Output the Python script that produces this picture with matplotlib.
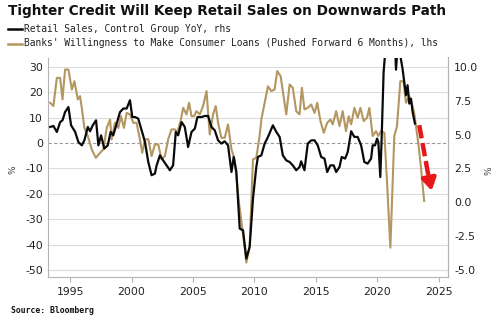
import matplotlib
matplotlib.use("Agg")
import matplotlib.pyplot as plt
from matplotlib.lines import Line2D

# ---------------- text ----------------
title = "Tighter Credit Will Keep Retail Sales on Downwards Path"
retail_label = "Retail Sales, Control Group YoY, rhs"
loans_label = "Banks' Willingness to Make Consumer Loans (Pushed Forward 6 Months), lhs"
source_text = "Source: Bloomberg"

# ---------------- data ----------------
# Retail Sales, Control Group YoY (right axis, %)
retail_dates = [
    1993.38, 1993.64, 1993.92, 1994.19, 1994.38, 1994.59, 1994.86, 1995.08, 1995.41, 1995.67,
    1995.95, 1996.16, 1996.44, 1996.62, 1996.84, 1997.11, 1997.30, 1997.52, 1997.78, 1998.06,
    1998.30, 1998.51, 1998.79, 1999.06, 1999.33, 1999.60, 1999.87, 2000.06, 2000.28, 2000.54,
    2000.82, 2001.09, 2001.36, 2001.63, 2001.90, 2002.04, 2002.31, 2002.57, 2002.85, 2003.12,
    2003.38, 2003.60, 2003.79, 2004.07, 2004.33, 2004.60, 2004.88, 2005.15, 2005.36, 2005.69,
    2005.96, 2006.23, 2006.50, 2006.77, 2007.04, 2007.31, 2007.58, 2007.85, 2008.13, 2008.31,
    2008.53, 2008.80, 2009.07, 2009.34, 2009.61, 2009.88, 2010.15, 2010.28, 2010.56, 2010.83,
    2011.10, 2011.50, 2011.78, 2012.05, 2012.31, 2012.59, 2012.86, 2013.12, 2013.40, 2013.67,
    2013.80, 2014.07, 2014.34, 2014.62, 2014.89, 2015.15, 2015.43, 2015.70, 2015.92, 2016.18,
    2016.45, 2016.65, 2016.92, 2017.10, 2017.38, 2017.59, 2017.87, 2018.13, 2018.40, 2018.68,
    2018.94, 2019.21, 2019.49, 2019.62, 2019.81, 2019.98, 2020.08, 2020.24, 2020.35, 2020.51,
    2020.65, 2020.80, 2021.00, 2021.20, 2021.35, 2021.52, 2021.65, 2021.80, 2022.05, 2022.19,
    2022.33, 2022.46, 2022.60, 2022.74, 2022.87, 2023.06,
]
retail_values = [
    5.57, 5.64, 5.20, 5.93, 6.06, 6.67, 7.04, 5.69, 5.20, 4.46,
    4.21, 4.58, 5.57, 5.25, 5.69, 6.06, 4.21, 4.95, 3.97, 4.21,
    5.20, 4.95, 5.82, 6.67, 6.93, 6.93, 7.54, 6.30, 6.30, 6.19,
    5.32, 4.46, 2.98, 2.00, 2.12, 2.73, 3.47, 3.10, 2.73, 2.37,
    2.73, 5.20, 4.95, 5.93, 5.57, 4.09, 5.20, 5.45, 6.30, 6.30,
    6.38, 6.38, 5.57, 5.32, 4.58, 4.34, 4.51, 4.21, 2.24, 3.35,
    2.24, -1.94, -2.07, -4.16, -3.30, 0.27, 2.60, 3.35, 3.47, 4.34,
    4.83, 5.69, 5.20, 4.83, 3.47, 3.10, 2.98, 2.73, 2.37, 2.61,
    3.03, 2.37, 4.34, 4.58, 4.58, 4.21, 3.35, 3.23, 2.24, 2.73,
    2.73, 2.24, 2.61, 3.35, 3.23, 3.72, 5.25, 4.83, 4.83, 4.21,
    2.98, 2.86, 3.23, 4.21, 4.21, 4.71, 4.46, 1.87, 4.71, 9.63,
    11.20, 12.50, 14.00, 18.00, 13.50, 9.80, 11.50, 11.20, 9.88, 8.89,
    7.91, 8.65, 7.29, 7.66, 6.67, 5.82,
]

# Banks' Willingness to Make Consumer Loans, pushed forward 6 months (left axis, %)
loans_dates = [
    1993.38, 1993.64, 1993.92, 1994.19, 1994.38, 1994.59, 1994.86, 1995.14, 1995.35, 1995.63,
    1995.81, 1995.95, 1996.16, 1996.44, 1996.76, 1997.09, 1997.44, 1997.70, 1997.98, 1998.25,
    1998.38, 1998.65, 1998.92, 1999.14, 1999.38, 1999.60, 1999.87, 2000.14, 2000.41, 2000.68,
    2000.87, 2001.09, 2001.36, 2001.63, 2001.90, 2002.17, 2002.44, 2002.71, 2002.98, 2003.25,
    2003.52, 2003.71, 2003.99, 2004.20, 2004.47, 2004.68, 2004.88, 2005.09, 2005.28, 2005.55,
    2005.82, 2006.10, 2006.36, 2006.63, 2006.85, 2007.04, 2007.31, 2007.58, 2007.85, 2008.13,
    2008.39, 2008.74, 2009.07, 2009.34, 2009.61, 2009.88, 2010.15, 2010.42, 2010.56, 2010.83,
    2011.10, 2011.37, 2011.64, 2011.85, 2012.13, 2012.39, 2012.59, 2012.86, 2013.12, 2013.40,
    2013.67, 2013.86, 2014.07, 2014.34, 2014.62, 2014.89, 2015.11, 2015.37, 2015.64, 2015.92,
    2016.18, 2016.37, 2016.65, 2016.92, 2017.18, 2017.45, 2017.67, 2017.87, 2018.13, 2018.40,
    2018.62, 2018.89, 2019.16, 2019.35, 2019.62, 2019.89, 2020.08, 2020.30, 2020.57, 2020.79,
    2021.06, 2021.38, 2021.60, 2021.87, 2022.13, 2022.33, 2022.60, 2022.79, 2023.00, 2023.33,
    2023.54, 2023.81,
]
loans_values = [
    15.9, 14.6, 25.7, 25.7, 17.2, 29.0, 29.0, 21.1, 24.4, 17.2,
    18.5, 13.9, 6.0, 2.8, -2.5, -5.8, -3.8, -2.5, 6.0, 9.3,
    1.5, 8.0, 6.0, 10.6, 6.0, 11.9, 11.3, 8.0, 8.0, 1.5,
    -3.8, 1.5, 1.5, -5.1, -0.5, -0.5, -6.4, -5.1, 1.5, 5.4,
    5.4, 4.1, 8.7, 13.9, 11.3, 15.9, 10.6, 10.6, 12.6, 11.3,
    14.6, 20.5, 3.4, 11.3, 14.6, 8.0, 2.1, 2.1, 7.4, -2.5,
    -6.4, -23.5, -35.9, -47.1, -40.6, -6.4, -5.8, 2.8, 9.3, 15.9,
    22.4, 20.5, 21.1, 28.4, 26.4, 17.8, 11.3, 23.1, 21.8, 12.6,
    11.3, 21.8, 13.3, 13.9, 15.2, 11.9, 15.9, 8.7, 4.1, 8.0,
    9.3, 7.4, 12.6, 6.7, 12.6, 4.7, 10.6, 7.4, 13.9, 10.0,
    13.9, 8.7, 10.0, 13.9, 2.8, 4.7, 2.8, 4.7, 4.1, -15.6,
    -41.2, 2.8, 6.7, 24.4, 24.4, 15.9, 18.5, 15.9, 11.9, 0.1,
    -9.1, -22.8,
]

left_ticks = [30, 20, 10, 0, -10, -20, -30, -40, -50]
right_ticks = [10.0, 7.5, 5.0, 2.5, 0.0, -2.5, -5.0]
x_ticks = [1995, 2000, 2005, 2010, 2015, 2020, 2025]

# red arrow annotation (right-axis units)
arrow_start = (2023.41, 5.7)
arrow_mid = (2024.15, 2.0)
arrow_end = (2024.42, 0.85)

# ---------------- style ----------------
BLACK = "#0a0a0a"
TAN = "#b39660"
RED = "#e8151b"
GRID = "#dcdcdc"
SPINE = "#b4b4b4"
TICKFONT = "DejaVu Sans"
MONO = "DejaVu Sans Mono"

fig = plt.figure(figsize=(5.0, 3.24), dpi=100)
W, H = 500.0, 324.0
ax = fig.add_axes([48 / W, 1 - 277 / H, 400 / W, 219.5 / H])
ax2 = ax.twinx()

ax.set_xlim(1993.2, 2025.75)
ax.set_ylim(-52.76, 33.74)
ax2.set_ylim(-5.517, 10.70)

# gridlines (left axis)
for v in left_ticks:
    if v == 0:
        ax.axhline(v, color="#9a9a9a", lw=0.8, ls=(0, (3, 2)), zorder=1)
    else:
        ax.axhline(v, color=GRID, lw=0.8, zorder=1)

ax.plot(loans_dates, loans_values, color=TAN, lw=1.5, zorder=3)
ax2.plot(retail_dates, retail_values, color=BLACK, lw=1.6, zorder=3)

# dashed red arrow
ax2.plot([arrow_start[0], arrow_mid[0]], [arrow_start[1], arrow_mid[1]],
         color=RED, lw=3.2, dashes=(3.0, 1.1), solid_capstyle="butt",
         dash_capstyle="butt", zorder=5)
ax2.annotate("", xy=arrow_end, xytext=arrow_mid,
             arrowprops=dict(arrowstyle="-|>,head_width=0.42,head_length=0.7",
                             color=RED, lw=3.2, shrinkA=0, shrinkB=0),
             zorder=5)

# ticks
ax.set_yticks(left_ticks)
ax.set_yticklabels([f"{v:d}" for v in left_ticks])
ax2.set_yticks(right_ticks)
ax2.set_yticklabels([f"{v:.1f}" for v in right_ticks])
ax.set_xticks(x_ticks)
ax.set_xticklabels([str(v) for v in x_ticks])

ax.tick_params(axis="y", length=0, pad=3.5, labelsize=7.8, labelcolor="#222222")
ax2.tick_params(axis="y", length=0, pad=4.5, labelsize=7.8, labelcolor="#222222")
ax.tick_params(axis="x", length=3.5, width=0.8, color=SPINE, pad=4,
               labelsize=7.8, labelcolor="#222222")
for lab in ax.get_xticklabels() + ax.get_yticklabels() + ax2.get_yticklabels():
    lab.set_family(TICKFONT)

for a in (ax, ax2):
    a.spines["top"].set_visible(False)
    for s in ("left", "right", "bottom"):
        a.spines[s].set_color(SPINE)
        a.spines[s].set_linewidth(0.8)
ax2.spines["left"].set_visible(False)
ax2.spines["bottom"].set_visible(False)
ax.set_facecolor("white")

# % labels
fig.text(13 / W, 1 - 170 / H, "%", rotation=90, ha="center", va="center",
         fontsize=6.5, color="#444444", family=TICKFONT)
fig.text(489 / W, 1 - 171 / H, "%", rotation=90, ha="center", va="center",
         fontsize=6.5, color="#444444", family=TICKFONT)

# title
fig.text(8 / W, 1 - 15.5 / H, title, fontsize=9.8, fontweight="bold",
         family="DejaVu Sans", ha="left", va="baseline", color="#111111")

# legend
for y, col, lab in ((28.5, BLACK, retail_label), (43.5, TAN, loans_label)):
    fig.add_artist(Line2D([8 / W, 22 / W], [1 - y / H, 1 - y / H], color=col,
                          lw=1.8, transform=fig.transFigure))
    fig.text(23.5 / W, 1 - y / H, lab, fontsize=6.95, family=MONO,
             ha="left", va="center", color="#222222")

# source
fig.text(11 / W, 1 - 313 / H, source_text, fontsize=5.9, family=MONO,
         fontweight="bold", ha="left", va="baseline", color="#111111")

fig.savefig("out.png", dpi=100, facecolor="white")
